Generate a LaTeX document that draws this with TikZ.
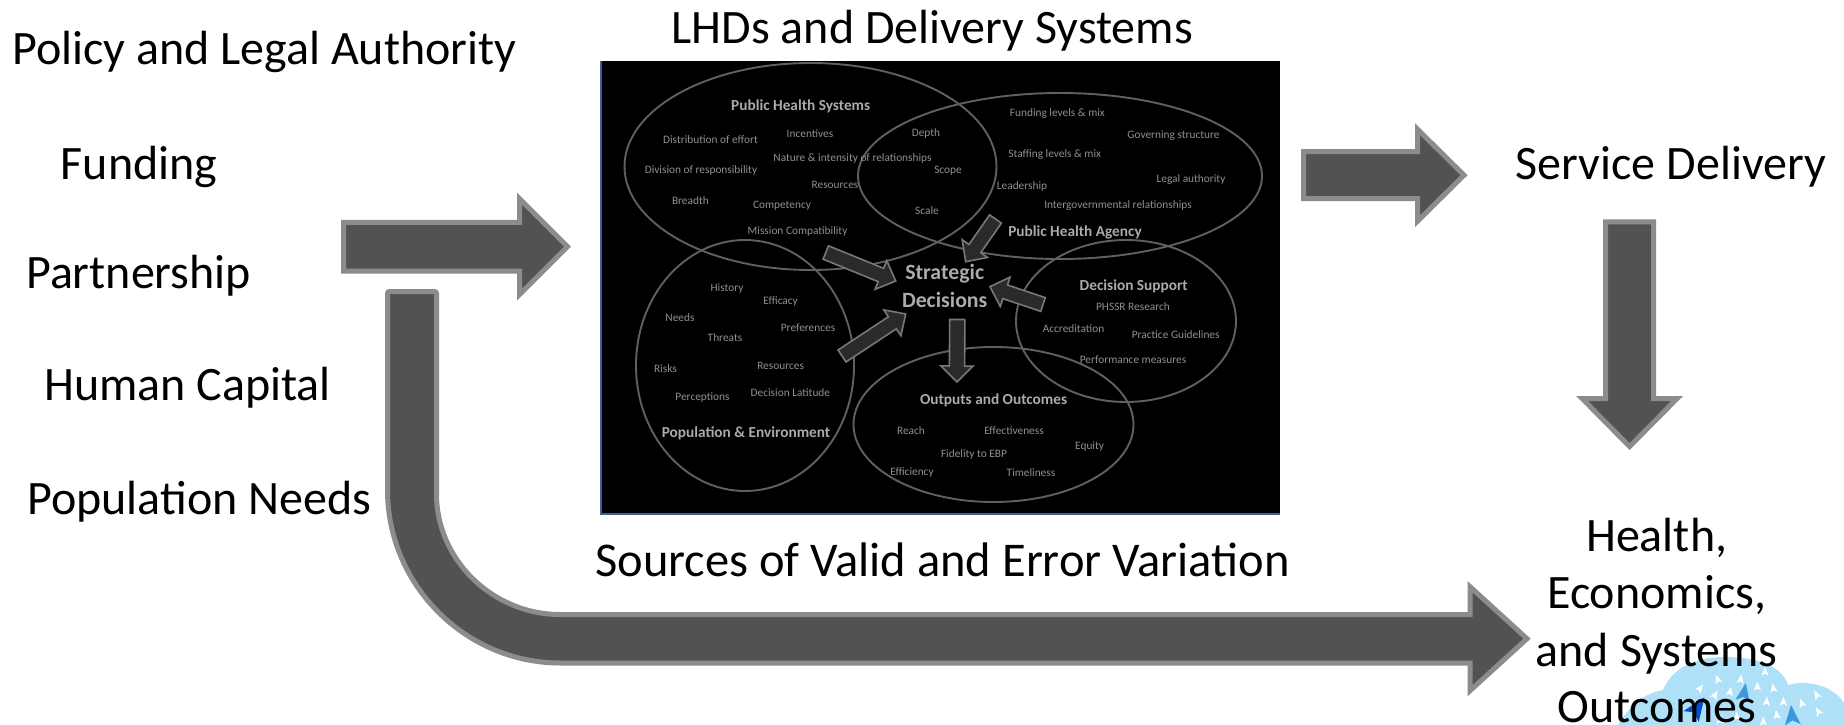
\documentclass[tikz,border=0pt]{standalone}
\usepackage{fontspec}
\setmainfont{Carlito}
\usetikzlibrary{calc}
\definecolor{bigfill}{HTML}{525252}
\definecolor{bigline}{HTML}{8C8C8C}
\definecolor{smallfill}{HTML}{2A2A2A}
\definecolor{smallline}{HTML}{787878}
\definecolor{ringline}{HTML}{606060}
\definecolor{picedge}{HTML}{3A6299}
\definecolor{smalltext}{HTML}{909090}
\definecolor{headtext}{HTML}{ABABAB}
\definecolor{cloudblue}{HTML}{AEE0F7}
\tikzset{
  bigtext/.style={inner sep=0pt,yshift=-1.8pt,font=\fontsize{48}{57}\selectfont,text=black},
  smalllabel/.style={inner sep=0pt,yshift=-0.5pt,font=\fontsize{11.35}{13}\selectfont,text=smalltext},
  headlabel/.style={inner sep=0pt,yshift=-0.8pt,font=\bfseries\fontsize{15.3}{18}\selectfont,text=headtext},
  corelabel/.style={inner sep=0pt,yshift=-0.8pt,font=\bfseries\fontsize{21.8}{26}\selectfont,text=headtext},
  ring/.style={draw=ringline,line width=1.9pt,x=1pt,y=1pt},
  bigarrow/.style={draw=bigline,fill=bigfill,line width=5pt,miter limit=10},
  smallarrow/.style={draw=smallline,fill=smallfill,line width=1.6pt,miter limit=10},
}
\newcommand{\blockarrow}[6]{%
  \coordinate (#3h) at ($(#3)!#6!(#2)$);
  \draw[#1] ($(#2)!#4!90:(#3)$) -- ($(#3h)!#4!90:(#3)$) -- ($(#3h)!#5!90:(#3)$) -- (#3) -- ($(#3h)!#5!-90:(#3)$) -- ($(#3h)!#4!-90:(#3)$) -- ($(#2)!#4!-90:(#3)$) -- cycle;}
\newcommand{\spark}[5]{\fill[#1,shift={(#2,#3)},rotate=#4,scale=#5] (0,-5) -- (3.6,4) -- (0,2) -- (-3.6,4) -- cycle;}
\begin{document}
\begin{tikzpicture}[x=1pt,y=-1pt]
\useasboundingbox (0,0) rectangle (1844,725);
% cloud
\fill[cloudblue] (1618,725) .. controls (1630,705) and (1645,693) .. (1663,690)
  .. controls (1672,668) and (1695,657) .. (1725,657)
  .. controls (1755,657) and (1782,665) .. (1788,685)
  .. controls (1805,680) and (1832,684) .. (1844,703) -- (1844,725) -- cycle;
\foreach \px/\py/\pr in {293/118/20,362/118/-10,435/95/0,240/145/-40,412/140/0,460/145/10,285/165/-30,330/155/-10,590/165/30,545/190/20,595/215/30,490/185/0,440/185/-5,470/225/10,430/245/0,300/240/0,350/230/0}{
  \spark{white}{1620+\px/3}{640+\py/3}{\pr}{1}}
\spark{cyan!70!blue!80}{1744}{693}{-10}{2}
\spark{cyan!70!blue!80}{1792}{716}{5}{2.2}
\spark{blue!60!cyan!80!black}{1697}{708}{-35}{2.6}
% picture panel
\fill[black] (600,61) rectangle (1280,514);
\fill[picedge] (600,61) rectangle (602,514);
\fill[picedge] (600,512.5) rectangle (1280,515);
\path[ring] (810.5,-166.5) ellipse [x radius=186,y radius=103.5];
\path[ring] (1060,-176) ellipse [x radius=202,y radius=83];
\path[ring] (745,-365.5) ellipse [x radius=109,y radius=125.5];
\path[ring] (1126,-321) ellipse [x radius=110,y radius=81];
\path[ring] (993.5,-424.5) ellipse [x radius=140,y radius=77.5];
% panel labels
\node[headlabel] (phs) at (800.7,106) {Public Health Systems};
\node[smalllabel] (l1) at (710.5,139) {Distribution of effort};
\node[smalllabel] (l2) at (810,133) {Incentives};
\node[smalllabel] (l3) at (926,133) {Depth};
\node[smalllabel] (l4) at (1057.4,113.3) {Funding levels \& mix};
\node[smalllabel] (l5) at (1173.5,135) {Governing structure};
\node[smalllabel] (l6) at (852.5,158) {Nature \& intensity of relationships};
\node[smalllabel] (l7) at (1054.7,154) {Staffing levels \& mix};
\node[smalllabel] (l8) at (948,170.3) {Scope};
\node[smalllabel] (l9) at (701,170.3) {Division of responsibility};
\node[smalllabel] (l10) at (1191,178.7) {Legal authority};
\node[smalllabel] (l11) at (835,184.3) {Resources};
\node[smalllabel] (l12) at (1022,185.7) {Leadership};
\node[smalllabel] (l13) at (690.4,199.7) {Breadth};
\node[smalllabel] (l14) at (782,205) {Competency};
\node[smalllabel] (l15) at (1118,205) {Intergovernmental relationships};
\node[smalllabel] (l16) at (927,210.3) {Scale};
\node[smalllabel] (l17) at (797.6,231.3) {Mission Compatibility};
\node[headlabel] (pha) at (1075,231.3) {Public Health Agency};
\node[corelabel] (sd1) at (944.7,273.3) {Strategic};
\node[corelabel] (sd2) at (944.7,299) {Decisions};
\node[smalllabel] (l18) at (727,288) {History};
\node[smalllabel] (l19) at (780.6,301) {Efficacy};
\node[smalllabel] (l20) at (680,317) {Needs};
\node[smalllabel] (l21) at (808,327.3) {Preferences};
\node[smalllabel] (l22) at (725,337.3) {Threats};
\node[smalllabel] (l23) at (665.4,368) {Risks};
\node[smalllabel] (l24) at (780.6,365.3) {Resources};
\node[smalllabel] (l25) at (702.5,396.7) {Perceptions};
\node[smalllabel] (l26) at (790.4,391.7) {Decision Latitude};
\node[headlabel] (pop) at (746,432.3) {Population \& Environment};
\node[headlabel] (ds) at (1133.7,285.3) {Decision Support};
\node[smalllabel] (l27) at (1133,305.7) {PHSSR Research};
\node[smalllabel] (l28) at (1073.5,327.7) {Accreditation};
\node[smalllabel] (l29) at (1175.7,334) {Practice Guidelines};
\node[smalllabel] (l30) at (1133,359) {Performance measures};
\node[headlabel] (oo) at (993.6,399.3) {Outputs and Outcomes};
\node[smalllabel] (l31) at (911,430) {Reach};
\node[smalllabel] (l32) at (1014,430) {Effectiveness};
\node[smalllabel] (l33) at (1089.6,445.7) {Equity};
\node[smalllabel] (l34) at (974,453.7) {Fidelity to EBP};
\node[smalllabel] (l35) at (912,472) {Efficiency};
\node[smalllabel] (l36) at (1031,472) {Timeliness};
% small arrows into Strategic Decisions
\coordinate (sat) at (825.8,252.5); \coordinate (sap) at (895.7,281);
\coordinate (sbt) at (995.5,219);   \coordinate (sbp) at (965.7,261.7);
\coordinate (sct) at (1043,304.5);  \coordinate (scp) at (990,286.7);
\coordinate (sdt) at (842,356);     \coordinate (sdp) at (905.7,314);
\coordinate (set) at (957.3,319.5); \coordinate (sep) at (956.9,382);
\blockarrow{smallarrow}{sat}{sap}{7.2pt}{15.5pt}{16pt}
\blockarrow{smallarrow}{sbt}{sbp}{7.2pt}{15.5pt}{16pt}
\blockarrow{smallarrow}{sct}{scp}{7.2pt}{15.5pt}{16pt}
\blockarrow{smallarrow}{sdt}{sdp}{7.2pt}{15.5pt}{16pt}
\blockarrow{smallarrow}{set}{sep}{7.6pt}{16pt}{16pt}
% big arrows
\coordinate (inT) at (343.5,246.7);  \coordinate (inP) at (567.5,246.7);
\coordinate (svT) at (1303.5,175.2); \coordinate (svP) at (1464,175.2);
\coordinate (dnT) at (1629.6,221.8); \coordinate (dnP) at (1629.6,446.5);
\blockarrow{bigarrow}{inT}{inP}{24.3pt}{48pt}{48pt}
\blockarrow{bigarrow}{svT}{svP}{23.5pt}{46pt}{46.5pt}
\blockarrow{bigarrow}{dnT}{dnP}{24pt}{47.5pt}{48pt}
% long curved arrow
\coordinate (lgP) at (1527,638.7);
\draw[bigarrow] (387.5,490) [rounded corners=2pt] -- (387.5,291.5) -- (436.5,291.5) [sharp corners] -- (436.5,494)
  .. controls (436.5,560) and (493,614.5) .. (560,614.5)
  -- (1470,614.5) -- (1470,586.7) -- (lgP) -- (1470,690.7) -- (1470,663) -- (560,663)
  .. controls (466,663) and (387.5,585.5) .. (387.5,490) -- cycle;
% outer texts
\node[bigtext,anchor=base west] (t1) at (12,63) {Policy and Legal Authority};
\node[bigtext,anchor=base west] (t2) at (60.6,178) {Funding};
\node[bigtext,anchor=base west] (t3) at (26,287) {Partnership};
\node[bigtext,anchor=base west] (t4) at (44,399) {Human Capital};
\node[bigtext,anchor=base west] (t5) at (27,513) {Population Needs};
\node[bigtext,anchor=base west] (t6) at (671.5,42) {LHDs and Delivery Systems};
\node[bigtext,anchor=base west,font=\fontsize{48.5}{57}\selectfont] (t7) at (595,575) {Sources of Valid and Error Variation};
\node[bigtext,anchor=base west] (t8) at (1515.6,178) {Service Delivery};
\node[bigtext,anchor=base] (t9) at (1656.7,550) {Health,};
\node[bigtext,anchor=base] (t10) at (1656.7,606.7) {Economics,};
\node[bigtext,anchor=base] (t11) at (1656.7,665) {and Systems};
\node[bigtext,anchor=base] (t12) at (1656.7,721) {Outcomes};
\end{tikzpicture}
\end{document}
